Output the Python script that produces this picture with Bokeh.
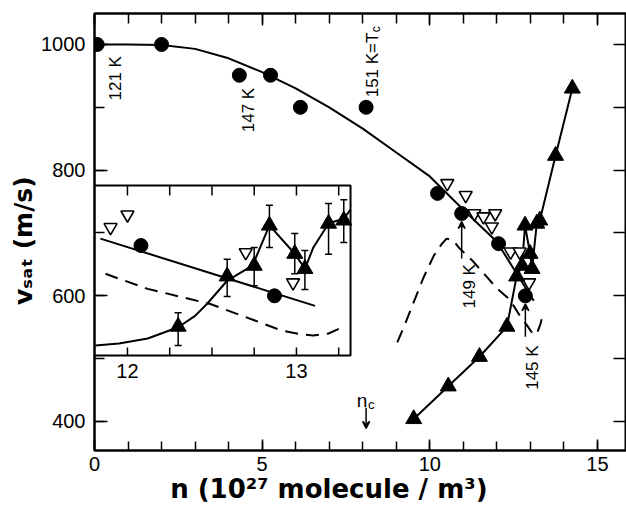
from math import pi
from bokeh.plotting import figure
from bokeh.models import (Range1d, LinearAxis, FixedTicker, BoxAnnotation, Label, Arrow,
                          VeeHead, Whisker, TeeHead, ColumnDataSource)
from bokeh.embed import file_html
from bokeh.resources import INLINE

# ---------------- data ----------------
# main plot: filled circles (n in 1e27 m^-3, v_sat in m/s)
circ_n = [0.08, 2.0, 4.32, 5.25, 6.14, 8.1, 10.23, 10.95, 12.05, 12.85]
circ_v = [1000, 1000, 951, 951, 900, 900, 763, 731, 683, 600]
# solid theory curve
curve_n = [0.0, 1.0, 2.0, 3.0, 4.0, 5.0, 6.0, 7.0, 8.0, 9.0, 10.0, 11.0, 12.0, 12.5, 13.1]
curve_v = [1000, 1000, 999, 993, 978, 956, 930, 900, 866, 828, 790, 737, 686, 643, 592]
# filled triangles joined by a line
tri_n = [9.52, 10.55, 11.48, 12.30, 12.59, 12.75, 12.84, 12.99, 13.05, 13.19, 13.28, 13.75, 14.25]
tri_v = [404, 456, 503, 551, 631, 648, 712, 667, 643, 715, 720, 823, 930]
# open (inverted) triangles
open_n = [10.52, 11.07, 11.33, 11.60, 11.85, 11.95, 12.41, 12.68, 12.96]
open_v = [779, 760, 731, 726, 710, 731, 670, 670, 621]
# dashed curve
dash_n = [9.03, 9.27, 9.52, 9.82, 10.12, 10.35, 10.5, 10.7, 10.86, 11.27, 11.7, 12.0,
          12.32, 12.5, 12.7, 12.9, 13.0, 13.1, 13.2, 13.3, 13.35]
dash_v = [526, 556, 590, 630, 664, 682, 691, 688, 677, 656, 630, 612,
          597, 584, 567, 553, 545, 538, 541, 555, 566]
n_crit = 8.1

x_major = [0, 5, 10, 15]
x_minor = list(range(0, 16))
y_major = [400, 600, 800, 1000]
y_minor = [400, 500, 600, 700, 800, 900, 1000]

# inset (expanded n scale, same v scale)
ins_tri_n = [12.30, 12.59, 12.75, 12.84, 12.99, 13.05, 13.19, 13.28]
ins_tri_v = [551, 631, 648, 712, 667, 643, 715, 720]
ins_err_hi = [573, 658, 677, 744, 699, 672, 747, 753]
ins_err_lo = [521, 599, 616, 677, 635, 610, 666, 685]
ins_fit_n = [11.81, 11.95, 12.12, 12.30, 12.40, 12.47, 12.59, 12.74, 12.84, 12.99, 13.05,
             13.10, 13.19, 13.28, 13.32]
ins_fit_v = [521, 524, 532, 550, 568, 587, 624, 648, 712, 667, 643, 677, 715, 723, 737]
ins_circ_n = [12.08, 12.87]
ins_circ_v = [680, 600]
ins_open_n = [11.90, 12.00, 12.70, 12.98]
ins_open_v = [709, 729, 669, 621]
ins_line_n = [11.84, 13.11]
ins_line_v = [691, 584]
ins_dash_n = [11.87, 12.12, 12.49, 12.75, 12.91, 13.02, 13.10, 13.19, 13.28]
ins_dash_v = [635, 611, 587, 561, 545, 539, 537, 540, 551]
ins_ticks = [12.0, 12.25, 12.5, 12.75, 13.0, 13.25]
ins_tick_labels = ["12", "13"]
ins_label_pos = [12.0, 13.0]

# ---------------- layout ----------------
W, H = 626, 506
FL, FT, FW, FH = 94, 13, 532, 437     # frame position on the page (px)
XR = (0.0, 15.866)
YR = (353.8, 1049.3)
IXR = (11.805, 11.805 + FW / 169.0)
INSET_BOX = dict(left=11.805, right=13.32, bottom=505.0, top=775.7)
PXU = FH / (YR[1] - YR[0])            # px per m/s
FONT = "Liberation Sans"
TFONT = "DejaVu Sans"
NB = "\u00a0"

p = figure(width=W, height=H, x_range=Range1d(*XR), y_range=Range1d(*YR),
           output_backend="svg", toolbar_location=None,
           min_border_left=FL, min_border_right=0, min_border_top=FT,
           min_border_bottom=H - FT - FH)
p.extra_x_ranges = {"inset": Range1d(*IXR)}
p.grid.visible = False
p.outline_line_color = "black"
p.outline_line_width = 2
p.background_fill_color = "white"
p.border_fill_color = "white"


def style_axis(ax, tin, tmin, labels=True, standoff=8):
    ax.axis_line_color = "black"
    ax.axis_line_width = 2
    ax.major_tick_in = tin
    ax.major_tick_out = 0
    ax.minor_tick_in = tmin
    ax.minor_tick_out = 0
    ax.major_tick_line_width = 1.5
    ax.minor_tick_line_width = 1.5
    ax.major_tick_line_color = "black"
    ax.minor_tick_line_color = "black"
    if labels:
        ax.major_label_text_font = FONT
        ax.major_label_text_font_size = "20px"
        ax.major_label_text_color = "black"
        ax.major_label_standoff = standoff
    else:
        ax.major_label_text_font_size = "0px"
        ax.major_label_standoff = 0


p.xaxis.ticker = FixedTicker(ticks=x_major, minor_ticks=x_minor)
p.yaxis.ticker = FixedTicker(ticks=y_major, minor_ticks=y_minor)
style_axis(p.xaxis[0], 11, 9, standoff=6)
style_axis(p.yaxis[0], 13, 10, standoff=9)

for ax, size, pad in ((p.xaxis[0], 26, 7), (p.yaxis[0], 25, 2)):
    ax.axis_label_text_font = TFONT
    ax.axis_label_text_font_style = "bold"
    ax.axis_label_text_font_size = f"{size}px"
    ax.axis_label_text_color = "black"
    ax.axis_label_standoff = 0
p.xaxis.axis_label = "n (10\u00b2\u2077 molecule / m\u00b3)" + NB * 7
p.yaxis.axis_label = "v\u209b\u2090\u209c (m/s)" + NB * 2

top = LinearAxis(ticker=FixedTicker(ticks=x_major, minor_ticks=x_minor),
                 major_label_overrides={t: "" for t in x_major})
style_axis(top, 12, 10, labels=False)
p.add_layout(top, "above")
right = LinearAxis(ticker=FixedTicker(ticks=y_minor, minor_ticks=[]),
                   major_label_overrides={t: "" for t in y_minor})
style_axis(right, 13, 0, labels=False)
p.add_layout(right, "right")

# ---------------- main glyphs ----------------
p.line(curve_n, curve_v, line_color="black", line_width=2)
p.line(dash_n, dash_v, line_color="black", line_width=2, line_dash="13 8")
p.line(tri_n, tri_v, line_color="black", line_width=2)
p.scatter(open_n, open_v, marker="inverted_triangle", size=13, fill_color="white",
          line_color="black", line_width=1.6)
p.scatter(tri_n, tri_v, marker="triangle", size=16, color="black")
p.scatter(circ_n, circ_v, marker="circle", size=14, color="black")

# ---------------- inset ----------------
p.add_layout(BoxAnnotation(**INSET_BOX, x_range_name="inset", fill_color="white", fill_alpha=1,
                           line_color="black", line_alpha=1, line_width=2, level="underlay"))
err_src = ColumnDataSource(dict(n=ins_tri_n, hi=ins_err_hi, lo=ins_err_lo))
p.add_layout(Whisker(base="n", upper="hi", lower="lo", source=err_src, dimension="height",
                     x_range_name="inset", line_width=1.5, line_color="black",
                     upper_head=TeeHead(size=7, line_width=1.5),
                     lower_head=TeeHead(size=7, line_width=1.5)))
p.line(ins_line_n, ins_line_v, x_range_name="inset", line_color="black", line_width=2)
p.line(ins_dash_n, ins_dash_v, x_range_name="inset", line_color="black", line_width=2,
       line_dash="13 8")
p.line(ins_fit_n, ins_fit_v, x_range_name="inset", line_color="black", line_width=2)
p.scatter(ins_open_n, ins_open_v, x_range_name="inset", marker="inverted_triangle", size=13,
          fill_color="white", line_color="black", line_width=1.6)
p.scatter(ins_tri_n, ins_tri_v, x_range_name="inset", marker="triangle", size=16, color="black")
p.scatter(ins_circ_n, ins_circ_v, x_range_name="inset", marker="circle", size=14, color="black")
p.ray(x=ins_ticks, y=[INSET_BOX["top"]] * len(ins_ticks), length=10, angle=-pi / 2,
      length_units="screen", x_range_name="inset", line_color="black", line_width=1.5)
p.ray(x=ins_ticks, y=[INSET_BOX["bottom"]] * len(ins_ticks), length=8, angle=pi / 2,
      length_units="screen", x_range_name="inset", line_color="black", line_width=1.5)


def lab(text, x, y, size, angle=0.0, align="left", baseline="alphabetic", bold=False,
        xo=0, yo=0, rng="default"):
    p.add_layout(Label(x=x, y=y, text=text, angle=angle, text_align=align,
                       text_baseline=baseline, text_font=FONT, text_font_size=f"{size}px",
                       text_font_style="bold" if bold else "normal", text_color="black",
                       x_offset=xo, y_offset=yo, x_range_name=rng))


for t, xv in zip(ins_tick_labels, ins_label_pos):
    lab(t, xv, INSET_BOX["bottom"], 20, align="center", baseline="top", yo=-9, rng="inset")

# ---------------- annotations ----------------
R = pi / 2
lab("121 K", circ_n[0], circ_v[0], 17, angle=R, xo=18, yo=-56)
lab("147 K", circ_n[2], circ_v[2], 17, angle=R, xo=9, yo=-57)
lab("151 K=T", circ_n[5], circ_v[5], 17, angle=R, xo=6, yo=10)
lab("c", circ_n[5], circ_v[5], 12, angle=R, xo=10, yo=75)
lab("149 K", circ_n[7], circ_v[7], 17, angle=R, xo=8, yo=-95)
lab("145 K", circ_n[9], circ_v[9], 17, angle=R, xo=7, yo=-94)

head = dict(size=7, line_width=1.5, line_color="black", fill_color="black")
p.add_layout(Arrow(x_start=circ_n[7], y_start=circ_v[7] - 45 / PXU, x_end=circ_n[7],
                   y_end=circ_v[7] - 8 / PXU, line_width=1.5, end=VeeHead(**head)))
p.add_layout(Arrow(x_start=circ_n[9], y_start=circ_v[9] - 41 / PXU, x_end=circ_n[9],
                   y_end=circ_v[9] - 8 / PXU, line_width=1.5, end=VeeHead(**head)))

# n_c marker
p.add_layout(Arrow(x_start=n_crit, y_start=422, x_end=n_crit, y_end=389, line_width=1.5,
                   end=VeeHead(**head)))
lab("n", n_crit, 433, 19, align="center", xo=-4)
lab("c", n_crit, 433, 13, align="left", xo=2, yo=-4)

open("out.html", "w").write(file_html(p, INLINE))
